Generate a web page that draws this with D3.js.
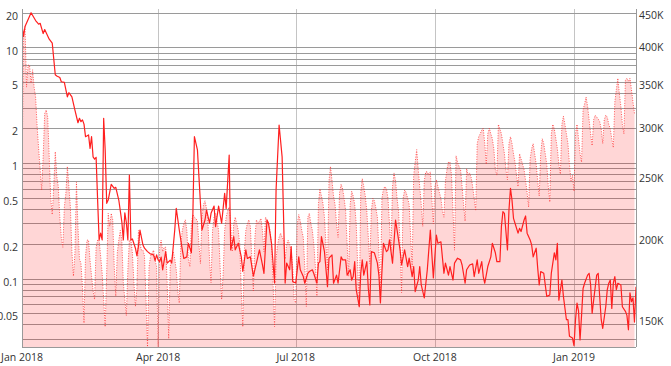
<!DOCTYPE html>
<html><head><meta charset="utf-8">
<script src="https://cdn.jsdelivr.net/npm/d3@7"></script>
<style>
body{margin:0;background:#fff;}
svg{display:block;}
text{font-family:"Open Sans",sans-serif;font-size:10.5px;fill:#333;}
</style>
</head><body>
<svg id="c" width="671" height="366"></svg>
<script>
const startDate = new Date(2018, 0, 1);
const lastDay = 406;

// solid series (left log axis): day offset from Jan 1 2018, value
const solidDays = [0,1,2,6,9,11,12,14,15,18,20,22,23,25,26,28,30,31,33,35,37,38,39,40,41,42,44,45,46,47,48,49,50,51,52,53,54,55,56,57,59,61,62,64,66,67,68,69,70,71,72,73,75,76,77,78,80,81,83,85,87,88,89,90,91,92,
93,95,96,98,99,101,102,104,106,107,109,110,112,113,114,116,117,119,121,122,124,125,127,128,130,132,133,134,135,137,138,140,141,143,145,146,148,149,151,153,155,157,159,160,162,163,165,167,168,170,172,174,175,177,178,179,181,183,
184,186,187,189,190,192,193,195,196,197,198,200,202,203,205,206,208,209,211,212,214,215,217,218,219,220,221,223,224,225,226,228,229,230,231,233,235,236,237,238,239,241,242,243,245,247,248,250,251,253,255,256,258,259,260,262,263,264,266,268,270,272,274,275,277,279,280,282,283,285,286,288,290,291,293,294,296,298,299,301,302,304,305,306,308,310,311,313,314,316,317,318,319,321,322,323,324,325,326,328,329,330,332,333,334,336,337,338,340,341,342,343,345,347,349,350,352,353,354,355,357,358,360,361,362,364,365,366,367,368,369,370,371,372,374,375,376,377,378,380,381,382,383,384,386,387,388,389,390,391,392,393,394,396,397,399,400,401,402,403,404,405,406];
const solidValues = [15.6,12.4,15.2,20,17.1,15.9,16.2,13.2,14.3,11.8,10.9,5.8,5.66,5.5,5.05,4.98,3.74,4.06,3.74,2.87,2.23,2.44,2.28,2.36,2.17,1.69,1.75,1.34,1.69,1.13,1.08,1.12,0.478,0.216,0.247,0.216,2.44,1.3,0.448,0.478,0.654,0.604,0.616,0.478,0.311,0.216,0.371,0.305,0.216,0.787,0.216,0.22,0.183,0.157,0.191,0.263,0.195,0.183,0.171,0.163,0.160,0.143,0.16,0.145,0.14,0.153,
0.119,0.171,0.136,0.144,0.136,0.263,0.405,0.263,0.177,0.149,0.154,0.202,0.167,0.367,1.69,1.30,0.761,0.263,0.321,0.392,0.301,0.367,0.424,0.281,0.424,0.301,0.405,0.547,0.405,1.17,0.177,0.231,0.177,0.202,0.154,0.115,0.177,0.149,0.154,0.105,0.136,0.177,0.131,0.111,0.321,0.301,0.202,0.0914,0.584,2.13,1.13,0.0914,0.136,0.119,0.189,0.094,0.0914,0.154,
0.119,0.104,0.091,0.111,0.115,0.119,0.110,0.091,0.136,0.14,0.231,0.171,0.085,0.150,0.160,0.091,0.107,0.091,0.154,0.145,0.145,0.107,0.119,0.097,0.104,0.14,0.08,0.057,0.111,0.145,0.107,0.14,0.082,0.059,0.171,0.167,0.136,0.107,0.0615,0.115,0.202,0.171,0.177,0.216,0.136,0.321,0.263,0.177,0.131,0.177,0.127,0.150,0.104,0.127,0.077,0.097,0.127,0.088,0.068,0.119,0.263,0.101,0.238,0.202,0.208,0.111,0.136,0.107,0.127,0.097,0.136,0.150,0.145,0.131,0.091,0.119,0.131,0.134,0.104,0.145,0.111,0.14,0.104,0.091,0.127,0.154,0.202,0.167,0.14,0.14,0.281,0.379,0.367,0.177,0.392,0.604,0.478,0.332,0.301,0.247,0.272,0.255,0.321,0.348,0.247,0.216,0.195,0.154,0.183,0.123,0.088,0.115,0.111,0.070,0.072,0.111,0.167,0.145,0.202,0.065,0.097,0.070,0.044,0.044,0.0316,0.0305,0.0263,0.044,0.0613,0.0524,0.0294,0.048,0.082,0.091,0.107,0.111,0.088,0.050,0.065,0.107,0.111,0.070,0.044,0.037,0.057,0.08,0.091,0.097,0.055,0.091,0.104,0.08,0.091,0.088,0.057,0.052,0.048,0.036,0.075,0.063,0.068,0.042,0.085];

// dotted / filled series (right log axis), thousands, one value per day from Jan 1 2018 (weeks Mon..Sun)
const dottedValues = [
244,416,426,343,371,371,348,
365,343,331,298,275,255,237,
267,312,316,308,267,230,217,
240,272,249,240,215,200,193,
223,234,258,240,223,190,174,
189,244,208,185,182,167,147,
187,198,198,184,174,165,160,
193,198,198,187,176,160,145,
176,218,208,218,213,180,162,
189,198,205,198,170,160,151,
178,198,198,189,170,156,167,
205,195,191,191,187,160,135,
180,187,189,191,184,180,135,
193,198,190,193,193,170,139,
180,185,190,185,178,165,158,
195,205,210,213,205,185,180,
210,217,215,214,212,195,182,
215,225,228,222,210,185,170,
205,215,218,212,205,180,160,
175,205,215,220,223,210,190,
210,215,210,205,195,165,145,
190,205,210,213,208,185,165,
200,213,210,212,214,205,190,
215,213,210,205,195,170,145,
185,195,200,203,200,198,185,
195,198,195,190,180,160,158,
210,217,212,205,200,180,156,
215,218,210,205,195,180,162,
225,238,232,226,215,195,178,
245,258,245,232,225,210,200,
235,242,238,230,220,195,174,
225,236,232,225,210,180,156,
235,247,240,232,220,200,182,
220,230,228,222,215,190,162,
230,238,240,238,230,210,191,
240,252,245,230,220,195,164,
230,237,235,230,225,200,180,
250,262,274,255,240,225,208,
245,253,253,250,253,230,210,
240,246,240,235,230,220,215,
245,255,262,262,250,220,191,
268,262,258,255,240,225,212,
256,250,252,248,240,230,220,
280,287,290,294,296,280,260,
290,296,290,285,275,255,250,
300,295,290,280,270,255,246,
280,287,280,270,262,250,240,
270,265,260,255,245,235,223,
265,275,280,270,260,245,232,
270,285,280,270,260,240,227,
290,300,295,285,275,260,251,
300,309,300,290,280,260,245,
250,236,290,300,285,270,262,
316,323,331,320,305,290,278,
305,310,308,306,303,295,280,
305,310,308,300,295,285,276,
325,340,354,335,320,300,290,
352,354,350,354,340,325,312
];

const leftTicks = [20, 10, 5, 2, 1, 0.5, 0.2, 0.1, 0.05];
const leftTickLabels = ["20", "10", "5", "2", "1", "0.5", "0.2", "0.1", "0.05"];
const rightTicks = [450, 400, 350, 300, 250, 200, 150];
const rightTickLabels = ["450K", "400K", "350K", "300K", "250K", "200K", "150K"];
const xTickDates = ["2018-01-01", "2018-04-01", "2018-07-01", "2018-10-01", "2019-01-01"];
const xTickLabels = ["Jan 2018", "Apr 2018", "Jul 2018", "Oct 2018", "Jan 2019"];

const L = 22, R = 636, T = 9, B = 347;
const parse = d3.timeParse("%Y-%m-%d");
const x = d3.scaleTime().domain([startDate, d3.timeDay.offset(startDate, lastDay)]).range([L, R]);
const yL = d3.scaleLog().domain([0.02554, 21.53]).range([B, T]);
const yR = d3.scaleLog().domain([134.9, 454]).range([B, T]);

const svg = d3.select("#c");
svg.append("defs").append("clipPath").attr("id", "clip")
  .append("rect").attr("x", L).attr("y", T).attr("width", R - L).attr("height", B - T);

// vertical grid
svg.append("g").selectAll("line").data(xTickDates.slice(1)).join("line")
  .attr("x1", d => Math.round(x(parse(d))) + 0.5).attr("x2", d => Math.round(x(parse(d))) + 0.5)
  .attr("y1", T).attr("y2", B)
  .attr("stroke", "#c4c4c4").attr("stroke-width", 1);

// horizontal grid (log ticks of left axis)
svg.append("g").selectAll("line").data(yL.ticks()).join("line")
  .attr("x1", L).attr("x2", R)
  .attr("y1", d => Math.round(yL(d)) + 0.5).attr("y2", d => Math.round(yL(d)) + 0.5)
  .attr("stroke", "#9a9a9a").attr("stroke-width", 1);

const dotted = dottedValues.map((v, i) => ({date: d3.timeDay.offset(startDate, i), v}));
const solid = solidDays.map((d, i) => ({date: d3.timeDay.offset(startDate, d), v: solidValues[i]}));

const g = svg.append("g").attr("clip-path", "url(#clip)");
g.append("path").datum(dotted)
  .attr("d", d3.area().x(d => x(d.date)).y0(B).y1(d => yR(d.v)))
  .attr("fill", "rgba(255,0,0,0.16)");
g.append("path").datum(dotted)
  .attr("d", d3.line().x(d => x(d.date)).y(d => yR(d.v)))
  .attr("fill", "none").attr("stroke", "rgba(255,40,40,0.75)")
  .attr("stroke-width", 1).attr("stroke-dasharray", "1,1.5");
g.append("path").datum(solid)
  .attr("d", d3.line().x(d => x(d.date)).y(d => yL(d.v)))
  .attr("fill", "none").attr("stroke", "#ff1f1f").attr("stroke-width", 1.2)
  .attr("stroke-linejoin", "round");

// frame lines
svg.append("line").attr("x1", L + 0.5).attr("x2", L + 0.5).attr("y1", T).attr("y2", B).attr("stroke", "#999");
svg.append("line").attr("x1", R + 0.5).attr("x2", R + 0.5).attr("y1", T).attr("y2", B).attr("stroke", "#999");
svg.append("line").attr("x1", L).attr("x2", R).attr("y1", B + 0.5).attr("y2", B + 0.5).attr("stroke", "#999");

// left labels
svg.append("g").selectAll("text").data(leftTicks).join("text")
  .attr("x", 18).attr("y", d => yL(d) + 3.5).attr("dy", "0.35em")
  .attr("text-anchor", "end").text((d, i) => leftTickLabels[i]);
// right labels
svg.append("g").selectAll("text").data(rightTicks).join("text")
  .attr("x", 639).attr("y", d => yR(d) + 3.5).attr("dy", "0.35em")
  .attr("text-anchor", "start").text((d, i) => rightTickLabels[i]);
// x labels
svg.append("g").selectAll("text").data(xTickDates).join("text")
  .attr("x", d => x(parse(d))).attr("y", 357).attr("dy", "0.35em")
  .attr("text-anchor", "middle").text((d, i) => xTickLabels[i]);
</script>
</body></html>
